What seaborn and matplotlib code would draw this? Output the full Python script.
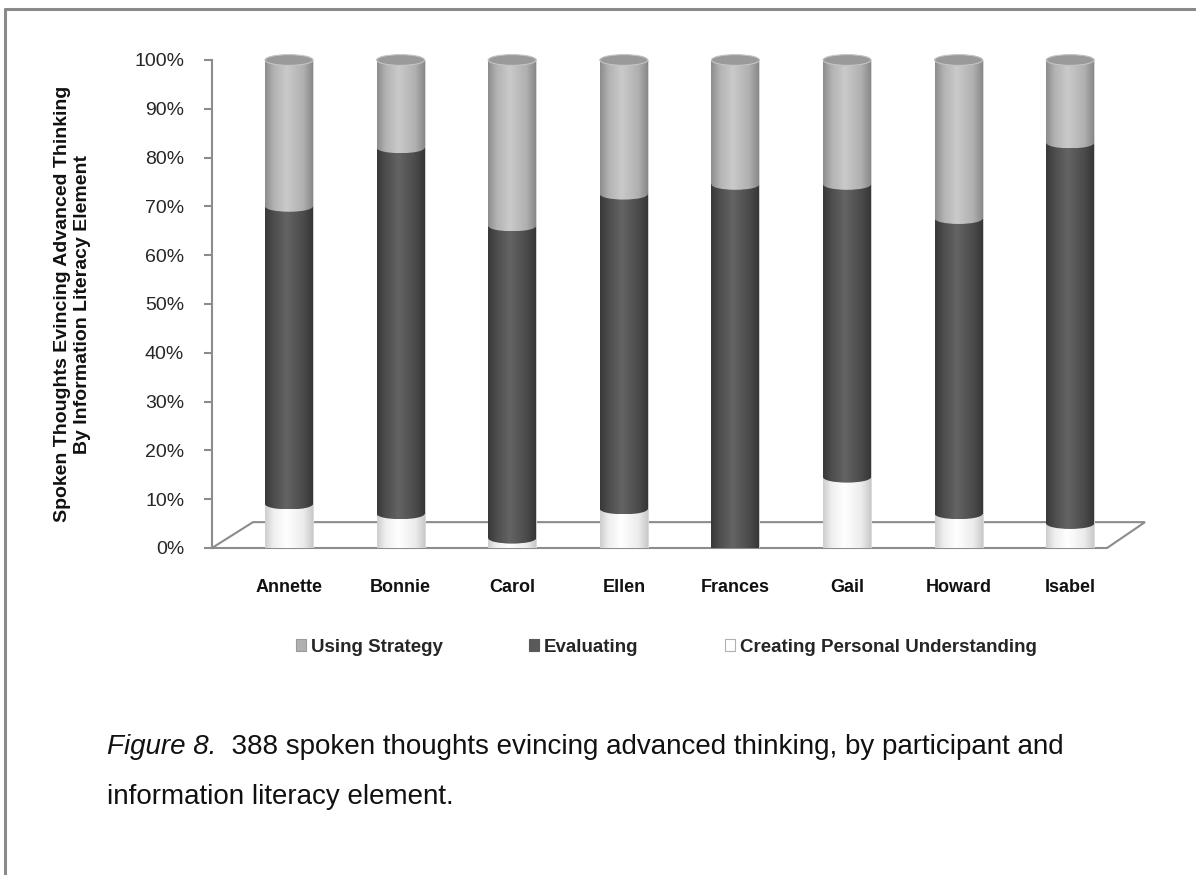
import numpy as np
import pandas as pd
import seaborn as sns
import matplotlib.pyplot as plt
from matplotlib.patches import Ellipse, Polygon, Rectangle
from matplotlib.lines import Line2D
from matplotlib.colors import LinearSegmentedColormap
from matplotlib.ticker import PercentFormatter, MultipleLocator

# Share of spoken thoughts per participant, by information literacy element
participants = ["Annette", "Bonnie", "Carol", "Ellen", "Frances", "Gail", "Howard", "Isabel"]
creating = [0.09, 0.07, 0.02, 0.08, 0.00, 0.145, 0.07, 0.05]
evaluating = [0.61, 0.75, 0.64, 0.645, 0.745, 0.60, 0.605, 0.78]
using = [0.30, 0.18, 0.34, 0.275, 0.255, 0.255, 0.325, 0.17]
series_names = ["Using Strategy", "Evaluating", "Creating Personal Understanding"]

df = pd.DataFrame({"participant": participants, "Creating": creating,
                   "Evaluating": evaluating, "Using": using})
total = df[["Creating", "Evaluating", "Using"]].sum(axis=1)
df["lvl1"] = df["Creating"] / total
df["lvl2"] = (df["Creating"] + df["Evaluating"]) / total
df["lvl3"] = (df["Creating"] + df["Evaluating"] + df["Using"]) / total

sns.set_theme(style="white")
plt.rcParams["font.family"] = ["Liberation Sans", "DejaVu Sans"]

W, H = 1196, 875
fig = plt.figure(figsize=(W / 100, H / 100), dpi=100)
ax = fig.add_axes([212 / W, (H - 548) / H, (1145 - 212) / W, (548 - 60) / H])

# cylinder shading: dark rims, bright highlight left of centre
shades = {
    "Using": ["#8c8c8c", "#b2b2b2", "#cacaca", "#b0b0b0", "#888888"],
    "Evaluating": ["#383838", "#4d4d4d", "#646464", "#4b4b4b", "#363636"],
    "Creating": ["#cdcdcd", "#efefef", "#ffffff", "#ececec", "#c9c9c9"],
}
stops = [0.0, 0.18, 0.45, 0.8, 1.0]
cmaps = {k: LinearSegmentedColormap.from_list(k, list(zip(stops, v))) for k, v in shades.items()}
flat = {"Using": "#b0b0b0", "Evaluating": "#555555", "Creating": "#f2f2f2"}
grad = np.linspace(0, 1, 256).reshape(1, -1)
BAR_W = 0.43
CAP_H = 0.022


def shade(patch, cmap, z):
    x0, y0 = patch.get_x(), patch.get_y()
    w, h = patch.get_width(), patch.get_height()
    im = ax.imshow(grad, cmap=cmap, aspect="auto", extent=(x0, x0 + w, y0, y0 + h),
                   zorder=z + 0.1, interpolation="bilinear")
    im.set_clip_path(patch)


def shade_ellipse(cx, cy, cmap, z):
    e = Ellipse((cx, cy), BAR_W, CAP_H, facecolor="none", edgecolor="none",
                zorder=z + 0.2, clip_on=False)
    ax.add_patch(e)
    im = ax.imshow(grad, cmap=cmap, aspect="auto",
                   extent=(cx - BAR_W / 2, cx + BAR_W / 2, cy - CAP_H / 2, cy + CAP_H / 2),
                   zorder=z + 0.1, interpolation="bilinear")
    im.set_clip_path(e)
    im.set_clip_box(None)


layers = [("lvl3", "Using", 2), ("lvl2", "Evaluating", 3), ("lvl1", "Creating", 4)]
for col, key, z in layers:
    sns.barplot(data=df, x="participant", y=col, color=flat[key], saturation=1,
                width=BAR_W, edgecolor="#d9d9d9", linewidth=0.6, ax=ax, zorder=z)
    cont = ax.containers[-1]
    for p in cont.patches:
        h = p.get_height()
        if h <= 0:
            continue
        cx = p.get_x() + p.get_width() / 2
        shade(p, cmaps[key], z)
        # rounded lower rim of the cylinder
        shade_ellipse(cx, 0, cmaps[key], z)
        # upper rim of the segment above curves over this one
        if key != "Using":
            upper = "Using" if key == "Evaluating" else "Evaluating"
            shade_ellipse(cx, h, cmaps[upper], z)

# flat lid on each cylinder
for p in ax.containers[0].patches:
    cx = p.get_x() + p.get_width() / 2
    e = Ellipse((cx, p.get_height()), BAR_W, CAP_H, facecolor="#9a9a9a",
                edgecolor="#c4c4c4", lw=0.8, zorder=6, clip_on=False)
    ax.add_patch(e)

xl = (-0.69, 7.67)
ax.set_xlim(*xl)
ax.set_ylim(0, 1)

# floor of the plot area
depth = 0.053
floor = Polygon([(xl[0], 0), (7.33, 0), (xl[1], depth), (-0.323, depth)], closed=True,
                facecolor="none", edgecolor="#8c8c8c", lw=1.5, zorder=1, clip_on=False)
ax.add_patch(floor)

for s in ["top", "right", "bottom"]:
    ax.spines[s].set_visible(False)
ax.spines["left"].set_color("#8c8c8c")
ax.spines["left"].set_linewidth(1.5)

ax.yaxis.set_major_locator(MultipleLocator(0.1))
ax.yaxis.set_major_formatter(PercentFormatter(1.0, decimals=0))
ax.tick_params(axis="y", left=True, length=6, width=1.5, color="#8c8c8c",
               labelsize=14, labelcolor="#262626", pad=14)
ax.tick_params(axis="x", bottom=False, labelsize=13, labelcolor="#111111", pad=16)
for lbl in ax.get_xticklabels():
    lbl.set_fontweight("bold")
ax.set_xlabel("")
ax.set_ylabel("Spoken Thoughts Evincing Advanced Thinking\nBy Information Literacy Element",
              fontsize=14, fontweight="bold", color="#111111", labelpad=31, linespacing=1.25)
ax.grid(False)

handles = [Rectangle((0, 0), 1, 1, facecolor="#b0b0b0", edgecolor="#9a9a9a", lw=0.8),
           Rectangle((0, 0), 1, 1, facecolor="#5a5a5a", edgecolor="#5a5a5a", lw=0.8),
           Rectangle((0, 0), 1, 1, facecolor="white", edgecolor="#b0b0b0", lw=0.8)]
fig.legend(handles, series_names, loc="center", bbox_to_anchor=(666 / W, (H - 647) / H),
           ncol=3, frameon=False, handlelength=0.55, handleheight=0.55, handletextpad=0.25,
           columnspacing=4.6, prop={"size": 13.5, "weight": "bold"})

# caption
cap_size = 20
t1 = fig.text(107 / W, (H - 747) / H, "Figure 8.", fontsize=cap_size, style="italic",
              va="center", ha="left", color="#111111")
ax.annotate("  388 spoken thoughts evincing advanced thinking, by participant and",
            xy=(1, 0), xycoords=t1, va="bottom", ha="left", fontsize=cap_size,
            color="#111111", annotation_clip=False)
fig.text(107 / W, (H - 797) / H, "information literacy element.", fontsize=cap_size,
         va="center", ha="left", color="#111111")

# page frame
fig.add_artist(Line2D([5 / W, 1.0], [(H - 9) / H] * 2, color="#8a8a8a", lw=2.2))
fig.add_artist(Line2D([5 / W] * 2, [0, (H - 9) / H], color="#8a8a8a", lw=2.2))

fig.savefig("out.png", dpi=100, facecolor="white")
